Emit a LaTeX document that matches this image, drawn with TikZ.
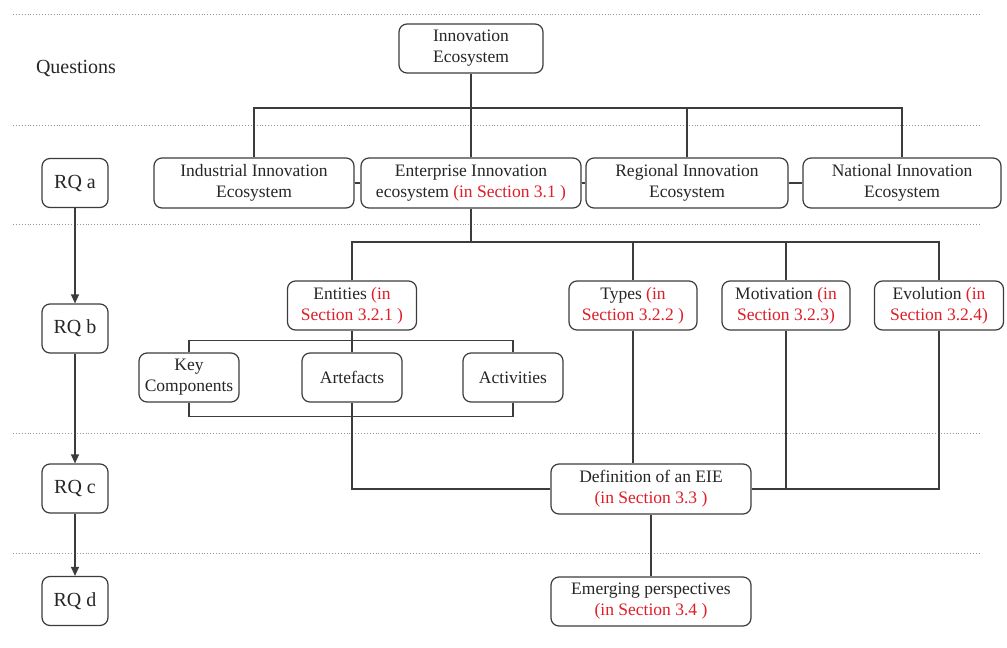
\documentclass[tikz,border=0pt]{standalone}
\usepackage{fontspec}
\setmainfont{Liberation Serif}
\usetikzlibrary{arrows.meta}
\definecolor{ln}{RGB}{60,60,60}
\definecolor{secred}{RGB}{222,30,40}
\definecolor{dotc}{RGB}{150,150,150}
\begin{document}
\begin{tikzpicture}[x=1pt,y=-1pt,
  box/.style={draw=ln, line width=1.2pt, rounded corners=8pt, align=center, inner sep=0pt, fill=white,
    font=\fontsize{17.5}{21}\selectfont, text=black!85},
  rq/.style={box, minimum width=66pt, minimum height=49pt, font=\fontsize{20}{24}\selectfont},
  conn/.style={draw=ln, line width=1.2pt},
  arr/.style={conn, -{Triangle[length=9pt,width=8pt]}},
  sep/.style={draw=dotc, line width=0.9pt, dotted},
  lbl/.style={font=\fontsize{20}{24}\selectfont, text=black!85}
]
\useasboundingbox (0,0) rectangle (1007,648);
% dotted separators
\foreach \yy in {14,125,224,433,553} \draw[sep] (13,\yy) -- (980,\yy);

\node[lbl] (q) at (76,68) {Questions};

% RQ column
\node[rq] (rqa) at (75,183) {RQ a};
\node[rq] (rqb) at (75,328.5) {RQ b};
\node[rq] (rqc) at (75,488.5) {RQ c};
\node[rq] (rqd) at (75,601) {RQ d};
\draw[arr] (rqa) -- (rqb);
\draw[arr] (rqb) -- (rqc);
\draw[arr] (rqc) -- (rqd);

% top
\node[box, minimum width=144pt, minimum height=49pt] (inn) at (471,48.5) {Innovation\\Ecosystem};
\coordinate (b1) at (471,108);

% row 2
\node[box, minimum width=200pt, minimum height=50pt] (ind) at (254,183) {Industrial Innovation\\Ecosystem};
\node[box, minimum width=220pt, minimum height=50pt] (ent) at (471,183) {Enterprise Innovation\\ecosystem \textcolor{secred}{(in Section 3.1 )}};
\node[box, minimum width=202pt, minimum height=50pt] (reg) at (687,183) {Regional Innovation\\Ecosystem};
\node[box, minimum width=198pt, minimum height=50pt] (nat) at (902,183) {National Innovation\\Ecosystem};

\draw[conn] (inn.south) -- (ent.north);
\draw[conn] (ind.north) |- (b1) -| (nat.north);
\draw[conn] (reg.north) -- (reg.north |- b1);
\draw[conn] (ind.east) -- (ent.west);
\draw[conn] (ent.east) -- (reg.west);
\draw[conn] (reg.east) -- (nat.west);

% row 3
\coordinate (b2) at (471,242);
\node[box, minimum width=129pt, minimum height=49pt] (entit) at (352,305.5) {Entities \textcolor{secred}{(in}\\\textcolor{secred}{Section 3.2.1 )}};
\node[box, minimum width=128pt, minimum height=49pt] (typ) at (633,305.5) {Types \textcolor{secred}{(in}\\\textcolor{secred}{Section 3.2.2 )}};
\node[box, minimum width=128pt, minimum height=49pt] (mot) at (786,305.5) {Motivation \textcolor{secred}{(in}\\\textcolor{secred}{Section 3.2.3)}};
\node[box, minimum width=129pt, minimum height=49pt] (evo) at (939,305.5) {Evolution \textcolor{secred}{(in}\\\textcolor{secred}{Section 3.2.4)}};

\draw[conn] (ent.south) -- (b2);
\draw[conn] (entit.north) |- (b2) -| (evo.north);
\draw[conn] (typ.north) -- (typ.north |- b2);
\draw[conn] (mot.north) -- (mot.north |- b2);

% row 4
\node[box, minimum width=100pt, minimum height=49pt] (key) at (189,377.5) {Key\\Components};
\node[box, minimum width=100pt, minimum height=49pt] (art) at (352,377.5) {Artefacts};
\node[box, minimum width=100pt, minimum height=49pt] (act) at (513,377.5) {Activities};

\draw[conn] (entit.south) -- (art.north);
\draw[conn] (key.north) -- ++(0,-12) -| (act.north);
\draw[conn] (key.south) -- ++(0,14) -| (act.south);

% definition
\node[box, minimum width=200pt, minimum height=50pt] (def) at (651,489) {Definition of an EIE\\\textcolor{secred}{(in Section 3.3 )}};
\node[box, minimum width=200pt, minimum height=49pt] (eme) at (651,601.5) {Emerging perspectives\\\textcolor{secred}{(in Section 3.4 )}};

\draw[conn] (art.south) |- (def.west);
\draw[conn] (typ.south) -- (typ.south |- def.north);
\draw[conn] (mot.south) |- (def.east);
\draw[conn] (evo.south) |- (def.east);
\draw[conn] (def.south) -- (eme.north);
\end{tikzpicture}
\end{document}
